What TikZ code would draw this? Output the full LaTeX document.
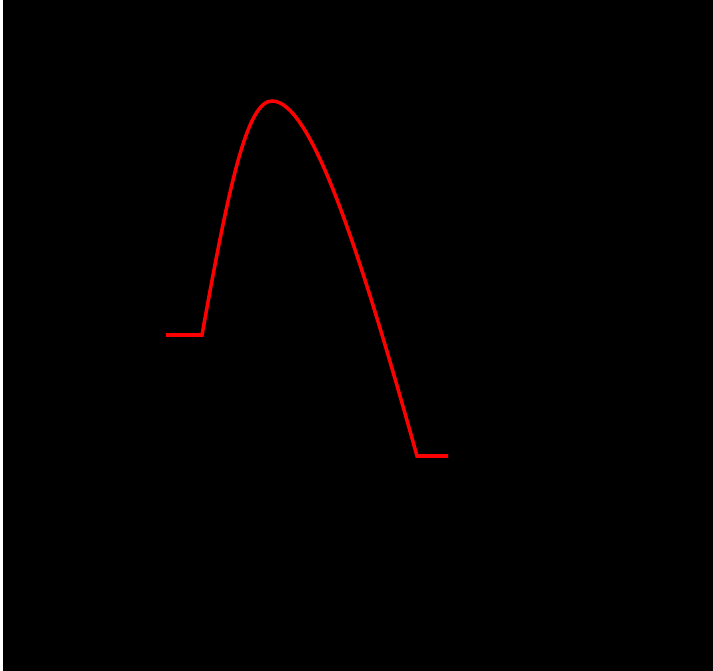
\documentclass[tikz,border=0pt]{standalone}
\usepackage{tikz}

\begin{document}
\begin{tikzpicture}[x=0.01cm,y=-0.01cm]
        \useasboundingbox (0,0) rectangle (713,671);
        \fill[black] (3,0) rectangle (713,671); % fond
        \draw[red,line width=1pt] (166,335) -- (202,335) .. controls (229,185) and (247,101) .. (272,101)
            .. controls (312,101) and (361,256) .. (417,456) -- (448,456);
    \end{tikzpicture}
\end{document}
